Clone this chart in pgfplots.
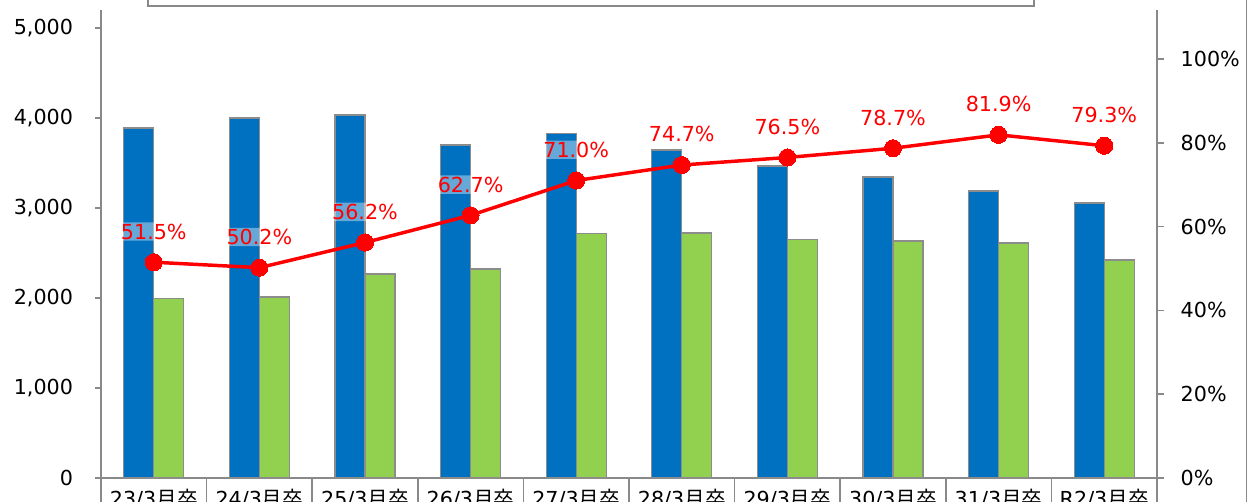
\documentclass[border=0pt]{standalone}
\usepackage{pgfplots}
\pgfplotsset{compat=1.18}
\usepackage{pgfplotstable}
\usepackage{fontspec}
\setmainfont{DejaVu Sans}
\newfontfamily\jp{Noto Sans CJK JP}
\definecolor{barblue}{HTML}{0070C0}
\definecolor{bargreen}{HTML}{92D050}
\definecolor{axgray}{HTML}{898989}
\definecolor{edgegray}{HTML}{8C8C8C}

\pgfplotstableread{
x blue green rate
0 3889 1995 51.5
1 4000 2010 50.2
2 4033 2268 56.2
3 3700 2322 62.7
4 3825 2716 71.0
5 3644 2722 74.7
6 3467 2652 76.5
7 3344 2632 78.7
8 3189 2611 81.9
9 3056 2423 79.3
}\data

\begin{document}
\begin{tikzpicture}
\begin{axis}[
  at={(75.75pt,18pt)}, anchor=south west,
  scale only axis, width=792pt, height=351pt,
  xmin=-0.5, xmax=9.5, ymin=0, ymax=5200,
  axis x line*=bottom, axis y line*=left,
  axis line style={axgray, line width=1.5pt, -},
  clip=false,
  xtick={0,...,9},
  xticklabels={23/3{\jp 月卒},24/3{\jp 月卒},25/3{\jp 月卒},26/3{\jp 月卒},27/3{\jp 月卒},28/3{\jp 月卒},29/3{\jp 月卒},30/3{\jp 月卒},31/3{\jp 月卒},R2/3{\jp 月卒}},
  xtick style={draw=none},
  ytick={0,1000,...,5000},
  ytick style={axgray, line width=1.2pt},
  major tick length=4.5pt, tick align=outside,
  yticklabel style={font=\fontsize{15.5}{18}\selectfont, xshift=-13pt},
  xticklabel style={font=\fontsize{15.5}{18}\selectfont},
  /pgf/number format/.cd, 1000 sep={,}, assume math mode=true,
]
\addplot[ybar, bar width=22.5pt, bar shift=-11.25pt, fill=barblue, draw=edgegray, line width=1pt] table[x=x,y=blue]{\data};
\addplot[ybar, bar width=22.5pt, bar shift=11.25pt, fill=bargreen, draw=edgegray, line width=1pt] table[x=x,y=green]{\data};
\pgfplotsinvokeforeach{-0.5,0.5,...,9.5}{
  \draw[axgray, line width=1.2pt] (axis cs:#1,0) -- ([yshift=-30pt]axis cs:#1,0);
}
\end{axis}
\begin{axis}[
  at={(75.75pt,18pt)}, anchor=south west,
  scale only axis, width=792pt, height=351pt,
  xmin=-0.5, xmax=9.5, ymin=0, ymax=111.7,
  axis x line=none, axis y line*=right,
  axis line style={axgray, line width=1.5pt, -},
  clip=false,
  ytick={0,20,...,100},
  ytick style={axgray, line width=1.2pt},
  major tick length=5.25pt, tick align=outside,
  yticklabel={\pgfmathprintnumber[assume math mode=true]{\tick}\%},
  yticklabel style={font=\fontsize{15.5}{18}\selectfont, xshift=9pt},
]
\addplot[red, line width=2.6pt, mark=*, mark size=6.4pt, mark options={fill=red, draw=red, line width=0pt},
  point meta=y,
  nodes near coords={\pgfmathprintnumber[fixed,fixed zerofill,precision=1,assume math mode=true]{\pgfplotspointmeta}\%},
  every node near coord/.append style={font=\fontsize{15.5}{18}\selectfont, text=red, anchor=center, yshift=23pt, fill=white, fill opacity=0.4, text opacity=1, inner sep=1pt, rounded corners=3pt}
] table[x=x,y=rate]{\data};
\end{axis}
\draw[axgray, line width=1.1pt] (111pt,372pt) rectangle (775.5pt,400pt);
\draw[axgray, line width=1.2pt] (934.9pt,-5pt) -- (934.9pt,400pt);
\pgfresetboundingbox
\path[use as bounding box] (0,0) rectangle (942.75pt,376.5pt);
\end{tikzpicture}
\end{document}
